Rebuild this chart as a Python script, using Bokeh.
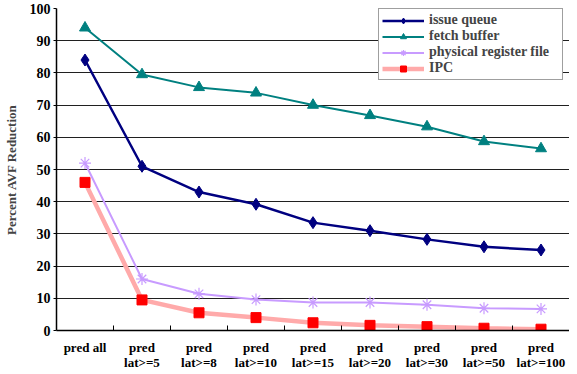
from bokeh.plotting import figure
from bokeh.models import FixedTicker, Range1d, Legend, LegendItem, ColumnDataSource
from bokeh.embed import file_html
from bokeh.resources import INLINE

categories = ["pred all", "pred\nlat>=5", "pred\nlat>=8", "pred\nlat>=10", "pred\nlat>=15",
              "pred\nlat>=20", "pred\nlat>=30", "pred\nlat>=50", "pred\nlat>=100"]
issue_queue = [84, 51, 43, 39.2, 33.5, 31, 28.3, 26, 25]
fetch_buffer = [94, 79.5, 75.5, 73.8, 70, 66.8, 63.3, 58.7, 56.5]
phys_reg_file = [52, 16, 11.4, 9.6, 8.7, 8.7, 8.0, 6.9, 6.7]
ipc = [46, 9.5, 5.5, 4.0, 2.4, 1.6, 1.2, 0.7, 0.4]
y_ticks = [0, 10, 20, 30, 40, 50, 60, 70, 80, 90, 100]

n = len(categories)
xs = [i + 0.5 for i in range(n)]
src = ColumnDataSource(dict(x=xs, iq=issue_queue, fb=fetch_buffer, prf=phys_reg_file, ipc=ipc))

p = figure(width=569, height=372, output_backend="svg", toolbar_location=None,
           x_range=Range1d(0, n), y_range=Range1d(0, 100),
           min_border_left=47, min_border_right=0, min_border_top=8, min_border_bottom=40)
p.outline_line_color = None
p.background_fill_color = "white"
p.border_fill_color = "white"

font = "Liberation Serif"

# x axis
p.xaxis.ticker = FixedTicker(ticks=xs, minor_ticks=list(range(1, n)))
p.xaxis.major_label_overrides = {x: c for x, c in zip(xs, categories)}
p.xaxis.major_tick_in = 0
p.xaxis.major_tick_out = 0
p.xaxis.minor_tick_in = 5
p.xaxis.minor_tick_out = 0
p.xaxis.axis_line_color = "black"
p.xaxis.axis_line_width = 1.5
p.xaxis.minor_tick_line_color = "black"
p.xaxis.major_label_text_font = font
p.xaxis.major_label_text_font_style = "bold"
p.xaxis.major_label_text_font_size = "13px"
p.xaxis.major_label_text_line_height = 1.0
p.xaxis.major_label_text_color = "black"
p.xaxis.major_label_standoff = 9
p.xgrid.visible = False

# y axis
p.yaxis.ticker = FixedTicker(ticks=y_ticks)
p.yaxis.minor_tick_line_color = None
p.yaxis.major_tick_in = 0
p.yaxis.major_tick_out = 3
p.yaxis.major_tick_line_color = "black"
p.yaxis.axis_line_color = "black"
p.yaxis.axis_line_width = 1.5
p.yaxis.major_label_text_font = font
p.yaxis.major_label_text_font_style = "bold"
p.yaxis.major_label_text_font_size = "14px"
p.yaxis.major_label_text_color = "black"
p.yaxis.major_label_standoff = 3
p.yaxis.axis_label = "Percent AVF Reduction"
p.yaxis.axis_label_text_font = font
p.yaxis.axis_label_text_font_style = "bold"
p.yaxis.axis_label_text_font_size = "13px"
p.yaxis.axis_label_standoff = 8
p.ygrid.grid_line_color = "#202020"
p.ygrid.grid_line_width = 1

# series
ipc_line = p.line("x", "ipc", source=src, line_color="#FFAAAA", line_width=4.5)
ipc_mk = p.scatter("x", "ipc", source=src, marker="square", size=10, fill_color="#FF0000", line_color="#FF0000")
prf_line = p.line("x", "prf", source=src, line_color="#C89BFF", line_width=2)
prf_mk = p.scatter("x", "prf", source=src, marker="asterisk", size=12, line_color="#C89BFF", line_width=1.2)
fb_line = p.line("x", "fb", source=src, line_color="#008080", line_width=2)
fb_mk = p.scatter("x", "fb", source=src, marker="triangle", size=11, fill_color="#008080", line_color="#008080")
iq_line = p.line("x", "iq", source=src, line_color="#000080", line_width=2.5)
iq_mk = p.scatter("x", "iq", source=src, marker="diamond", size=12, fill_color="#000080", line_color="#000080")

legend = Legend(items=[
    LegendItem(label="issue queue", renderers=[iq_line, iq_mk]),
    LegendItem(label="fetch buffer", renderers=[fb_line, fb_mk]),
    LegendItem(label="physical register file", renderers=[prf_line, prf_mk]),
    LegendItem(label="IPC", renderers=[ipc_line, ipc_mk]),
], location=(322, 250))
legend.label_text_font = font
legend.label_text_font_style = "bold"
legend.label_text_font_size = "14px"
legend.glyph_width = 42
legend.glyph_height = 15
legend.label_height = 15
legend.label_width = 130
legend.spacing = 0
legend.padding = 3
legend.margin = 0
legend.label_standoff = 5
legend.border_line_color = "#404040"
legend.border_line_width = 1
legend.background_fill_alpha = 1
p.add_layout(legend, "center")

open("out.html", "w").write(file_html(p, INLINE))
